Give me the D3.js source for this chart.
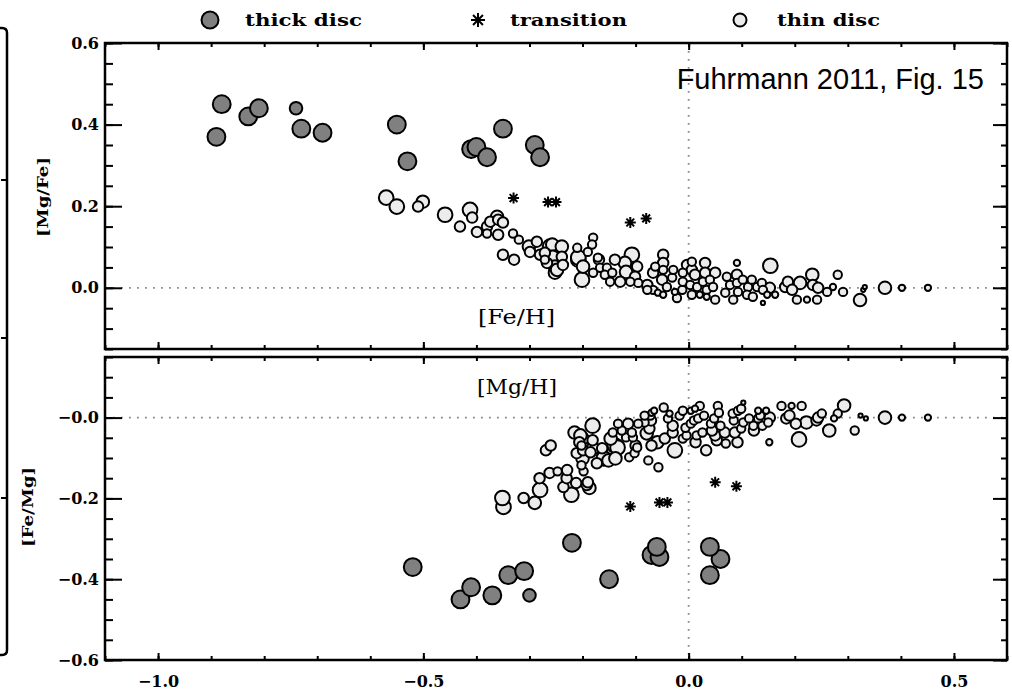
<!DOCTYPE html>
<html>
<head>
<meta charset="UTF-8">
<title>Fuhrmann 2011, Fig. 15</title>
<script src="https://d3js.org/d3.v7.min.js"></script>
<style>
  body {margin:0; background:#fff;}
</style>
</head>
<body>
<div id="chart"></div>
<script>
// ---- data: [Fe/H], [Mg/Fe], relative marker size ----
// thick disc stars
var thickFeH  = [-0.89, -0.88, -0.83, -0.81, -0.74, -0.73, -0.69, -0.55, -0.53, -0.41, -0.40, -0.38, -0.35, -0.29, -0.28];
var thickMgFe = [ 0.37,  0.45,  0.42,  0.44,  0.44,  0.39,  0.38,  0.40,  0.31,  0.34,  0.345, 0.32,  0.39,  0.35,  0.32];
var thickSize = [ 8.5,   8.5,   8.5,   8.5,   6,     8.5,   8.5,   8.5,   8.5,   8.5,   8.5,   8.5,   8.5,   8.5,   8.5];

// transition stars
var transFeH  = [-0.33, -0.265, -0.25, -0.11, -0.08];
var transMgFe = [ 0.22,  0.21,   0.21,  0.16,  0.17];

// thin disc stars
var thinFeH = [
  -0.570, -0.550, -0.510, -0.501, -0.459, -0.412, -0.408, -0.431, -0.399, -0.380,
  -0.374, -0.361, -0.359, -0.350, -0.380, -0.359, -0.331, -0.320, -0.350, -0.329,
  -0.301, -0.286, -0.299, -0.280, -0.271, -0.257, -0.239, -0.271, -0.256, -0.239,
  -0.267, -0.252, -0.237, -0.252, -0.210, -0.180, -0.182, -0.190, -0.208, -0.199,
  -0.201, -0.169, -0.167, -0.180, -0.154, -0.158, -0.144, -0.148, -0.139, -0.129,
  -0.120, -0.118, -0.107, -0.097, -0.101, -0.095, -0.110, -0.078, -0.067, -0.063,
  -0.048, -0.048, -0.048, -0.050, -0.067, -0.078, -0.058, -0.048, -0.041, -0.031,
  -0.029, -0.022, -0.026, -0.012, -0.011, -0.011, -0.003,  0.006,  0.006,  0.012,
   0.003,  0.006,  0.016,  0.031,  0.031,  0.027,  0.034,  0.021,  0.034,  0.050,
   0.091,  0.154,  0.040,  0.046,  0.050,  0.072,  0.078,  0.091,  0.091,  0.093,
   0.084,  0.069,  0.102,  0.112,  0.110,  0.119,  0.129,  0.121,  0.138,  0.140,
   0.148,  0.140,  0.153,  0.163,  0.182,  0.187,  0.195,  0.204,  0.210,  0.223,
   0.233,  0.234,  0.244,  0.242,  0.261,  0.272,  0.281,  0.291,  0.323,  0.329,
   0.332,  0.370,  0.402,  0.451, -0.261, -0.248, -0.208, -0.171
];
var thinMgFe = [
   0.221,  0.199,  0.199,  0.211,  0.179,  0.191,  0.172,  0.150,  0.137,  0.150,
   0.162,  0.174,  0.167,  0.160,  0.133,  0.130,  0.133,  0.118,  0.081,  0.069,
   0.101,  0.113,  0.088,  0.081,  0.069,  0.106,  0.101,  0.086,  0.076,  0.076,
   0.061,  0.052,  0.056,  0.037,  0.098,  0.123,  0.106,  0.088,  0.069,  0.052,
   0.020,  0.069,  0.049,  0.037,  0.049,  0.032,  0.037,  0.015,  0.069,  0.015,
   0.061,  0.039,  0.081,  0.052,  0.027,  0.012,  0.015,  0.007,  0.037,  0.052,
   0.081,  0.061,  0.044,  0.020, -0.005, -0.005, -0.012, -0.017,  0.002,  0.025,
   0.044, -0.025, -0.010, -0.005,  0.015,  0.037,  0.056,  0.064,  0.044,  0.032,
   0.007, -0.017,  0.002,  0.061,  0.037,  0.015, -0.005, -0.017, -0.022,  0.037,
   0.061,  0.054,  0.020,  0.002, -0.029,  0.027,  0.007,  0.032,  0.012, -0.010,
  -0.029, -0.012,  0.020,  0.002, -0.017,  0.020,  0.002, -0.022,  0.012, -0.005,
  -0.017, -0.037,  0.000, -0.017,  0.002,  0.015, -0.005, -0.029,  0.012, -0.029,
   0.032,  0.007,  0.000, -0.029, -0.010,  0.002,  0.032, -0.010, -0.030, -0.005,
   0.002,  0.000,  0.000,  0.000,  0.101,  0.044,  0.074,  0.074
];
var thinSize = [
  7, 7, 5, 6, 7, 7, 5, 5, 5, 5,
  5, 6, 5, 5, 4, 5, 4, 4, 5, 5,
  6, 5, 5, 5, 4, 6, 6, 5, 6, 5,
  5, 6, 5, 6, 4, 4, 4, 4, 7, 6,
  7, 5, 4, 4, 4, 4, 4, 4, 5, 5,
  6, 6, 7, 5, 5, 4, 4, 5, 5, 4,
  5, 5, 4, 5, 4, 4, 3, 3, 4, 4,
  4, 4, 3, 4, 4, 4, 5, 4, 5, 5,
  4, 4, 4, 5, 5, 4, 4, 3, 3, 5,
  3, 7, 4, 4, 4, 4, 4, 5, 4, 4,
  4, 4, 4, 4, 4, 4, 4, 4, 4, 4,
  3, 2, 5, 3, 5, 5, 5, 4, 6, 3,
  6, 5, 5, 4, 4, 3, 4, 4, 6, 2,
  2, 6, 3, 3, 7, 6, 7, 4
];

// axis ticks and labels
var xMajor = [-1.0, -0.5, 0.0, 0.5];
var xTickLabels = ["\u22121.0", "\u22120.5", "0.0", "0.5"];
var upperMajor = [0.0, 0.2, 0.4, 0.6];
var upperTickLabels = ["0.0", "0.2", "0.4", "0.6"];
var lowerMajor = [-0.6, -0.4, -0.2, 0.0];
var lowerTickLabels = ["\u22120.6", "\u22120.4", "\u22120.2", "\u22120.0"];

// ---- build star records; lower panel uses [Mg/H] = [Fe/H]+[Mg/Fe], [Fe/Mg] = -[Mg/Fe] ----
function makeStars(feh, mgfe, size) {
  return feh.map(function(d, i) {
    return {feh: d, mgfe: mgfe[i], mgh: d + mgfe[i], femg: -mgfe[i], size: size ? size[i] : 0};
  });
}
var thick = makeStars(thickFeH, thickMgFe, thickSize);
var trans = makeStars(transFeH, transMgFe, null);
var thin = makeStars(thinFeH, thinMgFe, thinSize).sort(function(a, b) { return b.size - a.size; });

var svg = d3.select("#chart").append("svg")
    .attr("width", 1012)
    .attr("height", 693);

var x = d3.scaleLinear().domain([-1.1, 0.6]).range([105, 1007]);
var yUp = d3.scaleLinear().domain([-0.15, 0.6]).range([349, 43]);
var yLo = d3.scaleLinear().domain([-0.6, 0.15]).range([660, 357]);
var rScale = d3.scaleLinear().domain([0, 10]).range([0, 10.5]);

var serif = "'DejaVu Serif', 'Liberation Serif', serif";
var xMinor = d3.range(-11, 7).map(function(d) { return d / 10; });

// partial frame of the neighbouring panel at the left edge
svg.append("path")
    .attr("d", "M0,28 L2,28 Q7,28 7,33 L7,650 Q7,655 2,655 L0,655")
    .attr("fill", "none").attr("stroke", "#000").attr("stroke-width", 2.5);
[180, 338, 498].forEach(function(yy) {
  svg.append("line").attr("x1", 1).attr("x2", 7).attr("y1", yy).attr("y2", yy)
      .attr("stroke", "#000").attr("stroke-width", 2);
});

function addAxis(axis, transform) {
  var g = svg.append("g").attr("transform", transform).call(axis);
  g.select(".domain").remove();
  g.selectAll("line").attr("stroke", "#000").attr("stroke-width", 2);
  g.selectAll("text")
      .attr("font-family", serif)
      .attr("font-weight", "bold")
      .attr("font-size", 16)
      .attr("fill", "#000");
  return g;
}

function starPath(cx, cy, s) {
  var p = "";
  for (var k = 0; k < 4; k++) {
    var a = k * Math.PI / 4;
    var dx = Math.cos(a) * s, dy = Math.sin(a) * s;
    p += "M" + (cx - dx) + "," + (cy - dy) + "L" + (cx + dx) + "," + (cy + dy);
  }
  return p;
}

function drawPanel(y, yMajor, yLabels, yMinor, xKey, yKey, showX, clipId) {
  var top = y.range()[1], bottom = y.range()[0];

  svg.append("clipPath").attr("id", clipId).append("rect")
      .attr("x", 105).attr("y", top).attr("width", 902).attr("height", bottom - top);

  // dotted reference lines
  svg.append("line")
      .attr("x1", x.range()[0]).attr("x2", x.range()[1])
      .attr("y1", y(0)).attr("y2", y(0))
      .attr("stroke", "#888").attr("stroke-width", 1.8).attr("stroke-dasharray", "1.8,6.2");
  svg.append("line")
      .attr("x1", x(0)).attr("x2", x(0))
      .attr("y1", top).attr("y2", bottom)
      .attr("stroke", "#888").attr("stroke-width", 1.8).attr("stroke-dasharray", "1.8,6.2");

  // y axes (left with labels, right without), ticks pointing inward
  addAxis(d3.axisLeft(y).tickValues(yMinor).tickSize(-8).tickFormat(""), "translate(105,0)");
  addAxis(d3.axisLeft(y).tickValues(yMajor).tickSize(-17).tickPadding(6)
      .tickFormat(function(d, i) { return yLabels[i]; }), "translate(105,0)");
  addAxis(d3.axisRight(y).tickValues(yMinor).tickSize(-6).tickFormat(""), "translate(1007,0)");
  addAxis(d3.axisRight(y).tickValues(yMajor).tickSize(-14).tickFormat(""), "translate(1007,0)");

  // x axes
  addAxis(d3.axisTop(x).tickValues(xMinor).tickSize(-4).tickFormat(""), "translate(0," + top + ")");
  addAxis(d3.axisTop(x).tickValues(xMajor).tickSize(-7).tickFormat(""), "translate(0," + top + ")");
  addAxis(d3.axisBottom(x).tickValues(xMinor).tickSize(-4).tickFormat(""), "translate(0," + bottom + ")");
  addAxis(d3.axisBottom(x).tickValues(xMajor).tickSize(-7).tickPadding(16)
      .tickFormat(function(d, i) { return showX ? xTickLabels[i] : ""; }), "translate(0," + bottom + ")");

  var marks = svg.append("g").attr("clip-path", "url(#" + clipId + ")");

  marks.selectAll("circle.thin").data(thin).enter().append("circle")
      .attr("class", "thin")
      .attr("cx", function(d) { return x(d[xKey]); })
      .attr("cy", function(d) { return y(d[yKey]); })
      .attr("r", function(d) { return rScale(d.size); })
      .attr("fill", "#ececec").attr("stroke", "#000").attr("stroke-width", 2);

  marks.selectAll("circle.thick").data(thick).enter().append("circle")
      .attr("class", "thick")
      .attr("cx", function(d) { return x(d[xKey]); })
      .attr("cy", function(d) { return y(d[yKey]); })
      .attr("r", function(d) { return rScale(d.size); })
      .attr("fill", "#808080").attr("stroke", "#000").attr("stroke-width", 2);

  marks.selectAll("path.trans").data(trans).enter().append("path")
      .attr("class", "trans")
      .attr("d", function(d) { return starPath(x(d[xKey]), y(d[yKey]), 5.5); })
      .attr("stroke", "#000").attr("stroke-width", 2).attr("fill", "none");

  // frame
  svg.append("rect")
      .attr("x", 105).attr("y", top).attr("width", 902).attr("height", bottom - top)
      .attr("fill", "none").attr("stroke", "#000").attr("stroke-width", 2.5);
}

drawPanel(yUp, upperMajor, upperTickLabels, d3.range(-3, 13).map(function(d) { return d * 0.05; }),
    "feh", "mgfe", false, "clipUp");
drawPanel(yLo, lowerMajor, lowerTickLabels, d3.range(-12, 4).map(function(d) { return d * 0.05; }),
    "mgh", "femg", true, "clipLo");

// axis titles
svg.append("text")
    .attr("transform", "translate(48,197) rotate(-90)")
    .attr("text-anchor", "middle")
    .attr("font-family", serif).attr("font-weight", "bold").attr("font-size", 15)
    .attr("textLength", 80).attr("lengthAdjust", "spacingAndGlyphs")
    .text("[Mg/Fe]");
svg.append("text")
    .attr("transform", "translate(33,507) rotate(-90)")
    .attr("text-anchor", "middle")
    .attr("font-family", serif).attr("font-weight", "bold").attr("font-size", 15)
    .attr("textLength", 80).attr("lengthAdjust", "spacingAndGlyphs")
    .text("[Fe/Mg]");

// panel labels
svg.append("text")
    .attr("x", 478).attr("y", 324)
    .attr("font-family", serif).attr("font-size", 20)
    .attr("textLength", 77).attr("lengthAdjust", "spacingAndGlyphs")
    .text("[Fe/H]");
svg.append("text")
    .attr("x", 477).attr("y", 394)
    .attr("font-family", serif).attr("font-size", 20)
    .attr("textLength", 80).attr("lengthAdjust", "spacingAndGlyphs")
    .text("[Mg/H]");

// legend
var legendY = 20;
svg.append("circle").attr("cx", 210).attr("cy", legendY).attr("r", 8.5)
    .attr("fill", "#808080").attr("stroke", "#000").attr("stroke-width", 2);
svg.append("path").attr("d", starPath(478, legendY, 7))
    .attr("stroke", "#000").attr("stroke-width", 2);
svg.append("circle").attr("cx", 740).attr("cy", legendY).attr("r", 6.5)
    .attr("fill", "#ececec").attr("stroke", "#000").attr("stroke-width", 2);
[["thick disc", 245, 117], ["transition", 510, 117], ["thin disc", 777, 103]].forEach(function(l) {
  svg.append("text")
      .attr("x", l[1]).attr("y", legendY + 6)
      .attr("font-family", serif).attr("font-weight", "bold").attr("font-size", 17)
      .attr("textLength", l[2]).attr("lengthAdjust", "spacingAndGlyphs")
      .text(l[0]);
});

// source note
svg.append("text")
    .attr("x", 984).attr("y", 89)
    .attr("text-anchor", "end")
    .attr("font-family", "'Liberation Sans', Arial, sans-serif")
    .attr("font-size", 29)
    .text("Fuhrmann 2011, Fig. 15");
</script>
</body>
</html>
